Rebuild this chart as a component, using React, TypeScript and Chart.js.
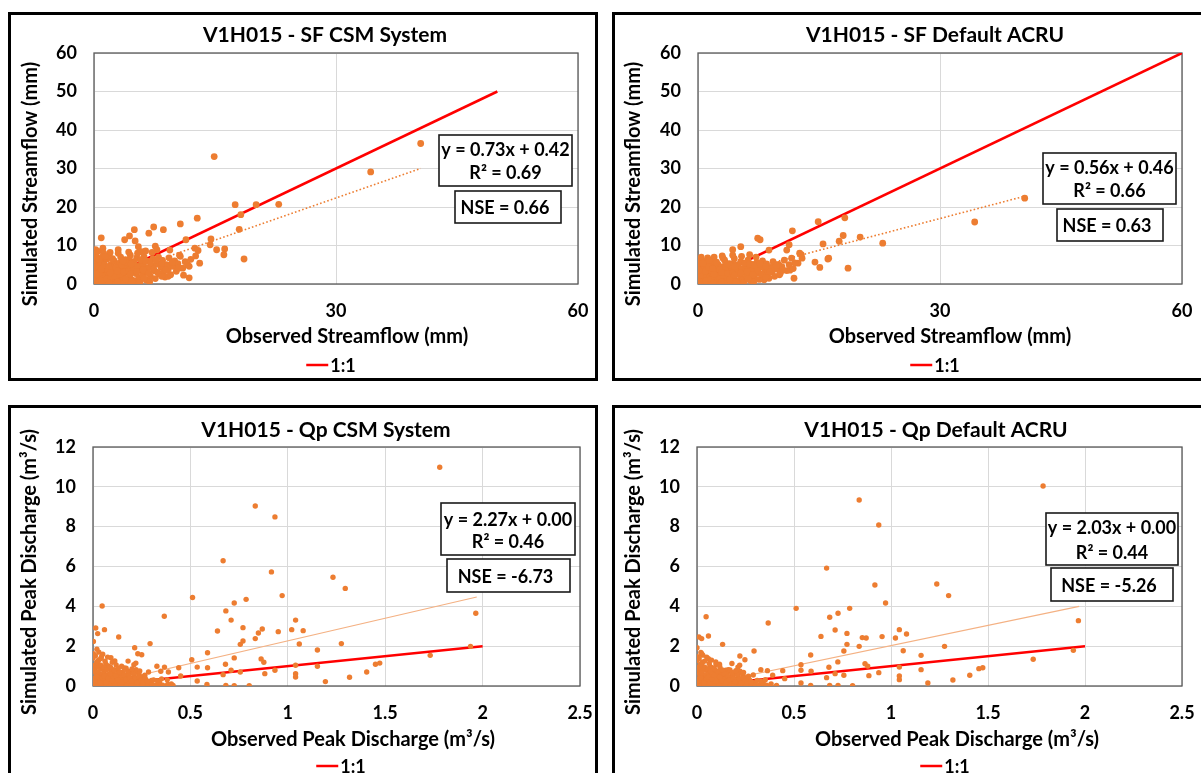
import { useEffect, useRef } from "react";
import { Chart, registerables } from "chart.js";

Chart.register(...registerables);

const FONT = 'Lato, "Open Sans", "DejaVu Sans", sans-serif';

// ---------- tick labels ----------
const sfTicksX = [0, 30, 60];
const sfTicksY = [0, 10, 20, 30, 40, 50, 60];
const qpTicksX = [0, 0.5, 1, 1.5, 2, 2.5];
const qpTicksY = [0, 2, 4, 6, 8, 10, 12];

// ---------- SF CSM System ----------
const sfCsmPoints: number[][] = [
  [14.9, 33.1], [40.5, 36.5], [34.3, 29.1], [17.5, 20.6], [20.1, 20.6], [22.9, 20.7], [18.2, 18.0], [18.0, 14.2],
  [18.6, 6.5], [12.8, 17.1], [10.7, 15.6], [7.4, 14.8], [8.6, 14.1], [5.0, 14.1], [0.9, 12.0], [3.8, 11.5],
  [4.4, 12.5], [6.8, 13.2], [11.4, 11.5], [14.5, 11.7], [14.4, 10.2], [15.2, 8.9], [16.2, 9.1], [16.1, 7.6],
  [12.5, 9.3], [12.9, 8.7], [12.6, 7.3], [13.1, 5.4], [11.6, 5.0], [11.1, 2.3], [11.8, 1.6], [7.6, 9.8],
  [7.8, 8.9], [5.1, 11.2], [5.5, 9.7], [3.0, 8.9], [0.2, 8.9], [1.1, 9.3], [9.4, 8.8], [10.6, 7.5],
  [10.1, 4.6], [9.2, 2.0], [5.9, 8.4],
  [0.1, 0.2], [0.2, 0.5], [0.3, 1.2], [0.1, 2.0], [0.4, 0.8], [0.5, 3.1], [0.2, 4.0], [0.6, 1.5], [0.3, 5.2],
  [0.8, 2.4], [0.1, 6.1], [0.9, 0.6], [1.0, 3.5], [0.7, 4.6], [1.2, 1.1], [1.1, 5.8], [1.3, 2.8], [1.5, 0.4],
  [1.4, 4.2], [1.6, 6.5], [1.8, 1.9], [1.7, 3.3], [2.0, 0.9], [2.1, 5.1], [1.9, 7.2], [2.3, 2.5], [2.4, 4.0],
  [2.2, 0.3], [2.6, 3.0], [2.5, 6.0], [2.8, 1.4], [2.9, 4.8], [3.0, 2.2], [3.1, 0.7], [3.2, 5.5], [3.4, 3.6],
  [3.3, 7.0], [3.6, 1.8], [3.5, 4.4], [3.8, 2.9], [3.9, 6.3], [4.0, 0.5], [4.1, 3.9], [4.2, 5.0], [4.4, 2.1],
  [4.5, 7.5], [4.6, 1.2], [4.7, 4.6], [4.8, 3.2], [5.0, 5.8], [5.1, 0.9], [5.2, 2.7], [5.3, 6.8], [5.5, 4.1],
  [5.6, 1.6], [5.8, 3.5], [5.9, 5.4], [6.0, 2.3], [6.2, 7.1], [6.3, 4.3], [6.5, 1.0], [6.6, 3.0], [6.8, 5.9],
  [7.0, 2.0], [7.1, 4.8], [7.3, 6.5], [7.5, 3.4], [7.6, 1.4], [7.8, 5.2], [8.0, 7.0], [8.1, 2.6], [8.3, 4.4],
  [8.5, 6.1], [8.6, 3.1], [8.8, 1.8], [9.0, 5.0], [9.2, 3.8], [9.3, 6.8], [9.5, 2.4], [9.8, 4.6], [10.0, 6.0],
  [10.2, 3.3], [10.4, 5.3], [10.7, 7.2], [11.0, 4.1], [11.3, 5.8], [11.8, 4.6], [12.0, 6.4], [0.2, 7.8],
  [0.5, 8.5], [0.4, 6.8], [1.2, 8.0], [0.0, 3.0], [0.0, 1.0], [0.0, 5.0], [0.6, 0.1], [1.4, 0.2], [2.7, 0.1],
  [3.7, 0.2], [1.0, 7.0], [2.0, 8.2], [3.0, 8.0], [4.3, 8.3], [5.4, 8.0], [6.4, 8.6], [7.2, 8.2], [0.3, 3.6],
  [0.8, 5.5], [1.5, 2.2], [2.4, 1.6], [3.5, 0.1], [4.9, 0.3], [5.7, 0.4], [1.1, 1.8], [0.7, 2.9], [2.2, 3.7],
  [3.8, 4.9], [4.4, 6.2], [6.9, 0.6],
  [0.5, 0.5], [1.0, 0.9], [1.6, 1.3], [2.1, 1.8], [2.6, 2.0], [3.2, 2.5], [3.7, 3.1], [4.3, 3.3], [4.9, 4.0],
  [5.4, 4.6], [6.1, 5.0], [6.7, 4.2], [7.4, 3.9], [0.3, 2.6], [0.9, 3.9], [1.3, 5.0], [1.8, 4.5], [2.7, 4.3],
  [3.4, 4.9], [4.0, 5.6], [4.6, 5.2], [5.8, 6.3], [6.4, 6.0], [7.0, 5.5], [7.7, 6.2], [8.4, 5.3], [9.1, 4.5],
  [2.0, 2.9], [2.9, 3.4], [3.9, 1.3], [4.5, 2.6], [5.3, 3.3], [6.1, 3.7], [6.8, 2.8], [7.9, 3.0], [8.9, 3.6],
  [9.7, 5.6], [10.5, 4.1], [0.6, 6.4], [1.4, 7.2], [2.3, 6.6], [3.6, 6.0], [0.1, 4.4], [1.9, 0.2], [2.9, 0.5],
  [4.7, 0.6], [6.2, 1.5], [8.4, 2.0],
];
const sfCsmTrend: number[][] = [[0, 0.42], [40.5, 30.0]];
const sfCsmOneToOne: number[][] = [[0, 0], [50, 50]];
const sfCsmLabels = ["y = 0.73x + 0.42", "R\u00b2 = 0.69", "NSE = 0.66"];

// ---------- SF Default ACRU ----------
const sfAcruPoints: number[][] = [
  [40.5, 22.3], [34.3, 16.1], [14.9, 16.2], [18.2, 17.2], [11.7, 13.8], [18.0, 12.6], [20.1, 12.2], [22.9, 10.6],
  [17.5, 11.1], [15.5, 10.4], [18.6, 4.1], [16.1, 6.5], [16.2, 6.7], [15.1, 4.3], [14.5, 5.7], [7.4, 11.9],
  [7.7, 11.5], [5.3, 9.7], [4.3, 8.9], [11.3, 10.2], [12.8, 7.6], [12.6, 8.0], [12.9, 6.7], [12.4, 5.4],
  [11.6, 6.7], [11.4, 3.6], [11.9, 1.5], [8.8, 8.8], [11.0, 8.8], [8.2, 1.1], [10.1, 2.4], [0.8, 5.4], [3.1, 6.7],
  [0.1, 0.2], [0.2, 0.6], [0.3, 1.3], [0.1, 2.2], [0.4, 0.9], [0.5, 2.8], [0.2, 3.6], [0.6, 1.6], [0.3, 4.3],
  [0.8, 2.2], [0.1, 5.0], [0.9, 0.5], [1.0, 3.1], [0.7, 3.9], [1.2, 1.0], [1.1, 4.8], [1.3, 2.4], [1.5, 0.4],
  [1.4, 3.6], [1.6, 5.3], [1.8, 1.7], [1.7, 2.9], [2.0, 0.8], [2.1, 4.3], [1.9, 6.0], [2.3, 2.1], [2.4, 3.4],
  [2.2, 0.3], [2.6, 2.6], [2.5, 5.0], [2.8, 1.2], [2.9, 4.0], [3.0, 1.9], [3.1, 0.6], [3.2, 4.6], [3.4, 3.0],
  [3.3, 6.2], [3.6, 1.5], [3.5, 3.8], [3.8, 2.5], [3.9, 5.3], [4.0, 0.5], [4.1, 3.3], [4.2, 4.3], [4.4, 1.8],
  [4.5, 6.6], [4.6, 1.0], [4.7, 3.9], [4.8, 2.7], [5.0, 5.0], [5.1, 0.8], [5.2, 2.3], [5.3, 5.8], [5.5, 3.5],
  [5.6, 1.3], [5.8, 3.0], [5.9, 4.6], [6.0, 2.0], [6.2, 6.2], [6.3, 3.7], [6.5, 0.9], [6.6, 2.6], [6.8, 5.1],
  [7.0, 1.7], [7.1, 4.1], [7.3, 5.6], [7.5, 2.9], [7.6, 1.2], [7.8, 4.4], [8.0, 6.0], [8.1, 2.2], [8.3, 3.8],
  [8.5, 5.2], [8.6, 2.7], [8.8, 1.5], [9.0, 4.3], [9.2, 3.2], [9.3, 5.8], [9.5, 2.0], [9.8, 3.9], [10.0, 5.1],
  [10.2, 2.8], [10.4, 4.5], [10.7, 6.2], [11.0, 3.5], [11.3, 5.0], [11.8, 4.0], [12.0, 5.5], [0.2, 6.3],
  [0.5, 5.8], [0.4, 7.0], [1.2, 6.8], [0.0, 2.6], [0.0, 1.0], [0.0, 4.0], [0.6, 0.1], [1.4, 0.2], [2.7, 0.1],
  [3.7, 0.2], [1.0, 6.0], [2.0, 7.0], [3.0, 7.3], [4.3, 7.5], [5.4, 7.2], [6.4, 7.6], [7.2, 7.0], [0.3, 3.0],
  [0.8, 4.6], [1.5, 1.9], [2.4, 1.3], [3.5, 0.1], [4.9, 0.3], [5.7, 0.4], [1.1, 1.5], [0.7, 2.5], [2.2, 3.1],
  [3.8, 4.1], [4.4, 5.3], [6.9, 0.5],
  [0.5, 0.4], [1.0, 0.8], [1.6, 1.1], [2.1, 1.5], [2.6, 1.8], [3.2, 2.2], [3.7, 2.7], [4.3, 2.9], [4.9, 3.5],
  [5.4, 4.0], [6.1, 4.4], [6.7, 3.6], [7.4, 3.4], [0.3, 2.3], [0.9, 3.4], [1.3, 4.4], [1.8, 4.0], [2.7, 3.7],
  [3.4, 4.3], [4.0, 4.9], [4.6, 4.6], [5.8, 5.4], [6.4, 5.2], [7.0, 4.8], [7.7, 5.3], [8.4, 4.6], [9.1, 3.9],
  [2.0, 2.5], [2.9, 3.0], [3.9, 1.1], [4.5, 2.3], [5.3, 2.9], [6.1, 3.2], [6.8, 2.4], [7.9, 2.6], [8.9, 3.1],
  [9.7, 4.8], [10.5, 3.6], [0.6, 5.4], [1.4, 6.1], [2.3, 5.7], [3.6, 5.2], [0.1, 3.6], [1.9, 0.2], [2.9, 0.5],
  [4.7, 0.5], [6.2, 1.3], [8.4, 1.7],
];
const sfAcruTrend: number[][] = [[0, 0.46], [40.5, 22.8]];
const sfAcruOneToOne: number[][] = [[0, 0], [60, 60]];
const sfAcruLabels = ["y = 0.56x + 0.46", "R\u00b2 = 0.66", "NSE = 0.63"];

// ---------- Qp CSM System ----------
const qpCsmPoints: number[][] = [
  [1.78, 10.98], [0.833, 9.04], [0.934, 8.49], [0.668, 6.29], [0.916, 5.73], [1.232, 5.46], [1.295, 4.9],
  [0.511, 4.44], [0.971, 4.54], [0.786, 4.35], [0.725, 4.17], [0.047, 4.02], [0.366, 3.5], [0.682, 3.77],
  [0.709, 3.31], [1.04, 3.31], [0.77, 2.93], [0.639, 2.76], [0.869, 2.86], [0.849, 2.66], [0.951, 2.73],
  [1.02, 2.83], [1.079, 2.78], [0.833, 2.38], [0.77, 2.26], [0.756, 2.09], [1.059, 2.11], [1.275, 2.13],
  [1.152, 1.81], [0.588, 1.67], [0.725, 1.41], [0.863, 1.36], [0.877, 1.19], [0.507, 1.32], [0.68, 1.09],
  [0.535, 0.95], [0.588, 0.92], [0.709, 0.79], [0.756, 0.7], [0.934, 0.79], [0.882, 0.62], [1.04, 1.04],
  [1.152, 0.99], [1.04, 0.62], [1.04, 0.45], [0.668, 0.57], [1.317, 0.44], [1.193, 0.22], [1.405, 0.7],
  [1.45, 1.09], [1.472, 1.15], [1.731, 1.54], [1.938, 1.99], [1.965, 3.65], [0.535, 0.25], [0.585, 0.08],
  [0.682, 0.03], [0.725, 0.02], [0.802, 0.02], [0.44, 0.92], [0.45, 0.5], [0.367, 0.95], [0.328, 0.99],
  [0.387, 0.7], [0.348, 0.74], [0.411, 0.03], [0.383, 0.08], [0.338, 0.12], [0.293, 2.13], [0.214, 1.92],
  [0.23, 1.62], [0.25, 1.57], [0.21, 1.07], [0.132, 2.46], [0.059, 2.83], [0.024, 2.63], [0.014, 2.91],
  [0.002, 2.24], [0.043, 1.46], [0.092, 1.42], [0.112, 1.26], [0.147, 0.99], [0.285, 0.7], [0.3, 0.28],
  [0.0, 0.05], [0.004, 0.22], [0.011, 0.41], [0.016, 0.1], [0.021, 0.62], [0.009, 0.83], [0.005, 1.02],
  [0.019, 1.21], [0.031, 0.3], [0.036, 0.05], [0.042, 0.52], [0.044, 0.88], [0.052, 0.14], [0.057, 0.71],
  [0.061, 0.33], [0.066, 1.1], [0.072, 0.04], [0.074, 0.57], [0.081, 0.26], [0.087, 0.84], [0.09, 0.11],
  [0.097, 0.44], [0.101, 0.66], [0.106, 0.19], [0.109, 0.05], [0.117, 0.36], [0.121, 0.79], [0.126, 0.16],
  [0.132, 0.49], [0.137, 0.04], [0.141, 0.31], [0.146, 0.61], [0.151, 0.09], [0.157, 0.42], [0.16, 0.91],
  [0.167, 0.21], [0.172, 0.06], [0.176, 0.53], [0.182, 0.29], [0.186, 0.12], [0.191, 0.72], [0.196, 0.38],
  [0.201, 0.16], [0.207, 0.04], [0.211, 0.51], [0.216, 0.24], [0.221, 0.82], [0.226, 0.1], [0.232, 0.36],
  [0.236, 0.6], [0.241, 0.05], [0.246, 0.21], [0.252, 0.46], [0.262, 0.11], [0.271, 0.31], [0.279, 0.05],
  [0.291, 0.19], [0.302, 0.09], [0.321, 0.05], [0.342, 0.16], [0.358, 0.04], [0.0, 1.41], [0.002, 1.62],
  [0.012, 1.52], [0.029, 1.31], [0.041, 1.38], [0.062, 1.24], [0.079, 1.01], [0.099, 1.19], [0.119, 1.06],
  [0.014, 0.66], [0.026, 0.96], [0.034, 0.24], [0.047, 0.44], [0.054, 0.02], [0.064, 0.29], [0.077, 0.92],
  [0.084, 0.02], [0.094, 0.76], [0.104, 0.48], [0.114, 0.02], [0.124, 0.59], [0.134, 0.41], [0.144, 0.02],
  [0.154, 0.69], [0.164, 0.46], [0.174, 0.02], [0.184, 0.56], [0.194, 0.02], [0.204, 0.34], [0.214, 0.66],
  [0.224, 0.02], [0.234, 0.26], [0.256, 0.02], [0.266, 0.54], [0.276, 0.15], [0.311, 0.31], [0.331, 0.26],
  [0.352, 0.36], [0.381, 0.31], [0.402, 0.1], [0.006, 0.02], [0.022, 0.02], [0.039, 0.02], [0.049, 0.39],
  [0.008, 0.3], [0.018, 0.48], [0.027, 0.72], [0.037, 0.15], [0.048, 0.62], [0.058, 0.5], [0.068, 0.18],
  [0.078, 0.38], [0.088, 0.6], [0.098, 0.27], [0.108, 0.82], [0.118, 0.52], [0.128, 0.3], [0.138, 0.7],
  [0.148, 0.2], [0.158, 0.55], [0.168, 0.33], [0.178, 0.75], [0.188, 0.4], [0.198, 0.25], [0.208, 0.62],
  [0.218, 0.4], [0.228, 0.18], [0.238, 0.45], [0.248, 0.3], [0.258, 0.2], [0.268, 0.38], [0.278, 0.25],
  [0.012, 1.05], [0.025, 1.15], [0.04, 1.05], [0.055, 0.95], [0.07, 0.82], [0.09, 0.95], [0.13, 0.9],
  [0.17, 0.9], [0.2, 0.85], [0.24, 0.75], [0.03, 1.7], [0.02, 1.85], [0.05, 1.6], [0.075, 1.45],
  [0.18, 1.25], [0.22, 1.15],
];
const qpCsmTrend: number[][] = [[0, 0.0], [1.97, 4.47]];
const qpCsmOneToOne: number[][] = [[0, 0], [2, 2]];
const qpCsmLabels = ["y = 2.27x + 0.00", "R\u00b2 = 0.46", "NSE = -6.73"];

// ---------- Qp Default ACRU ----------
const qpAcruPoints: number[][] = [
  [1.784, 10.04], [0.836, 9.34], [0.937, 8.08], [0.668, 5.92], [0.917, 5.07], [1.236, 5.12], [1.297, 4.54],
  [0.511, 3.9], [0.787, 3.9], [0.972, 4.17], [0.727, 3.65], [0.684, 3.45], [0.047, 3.48], [0.367, 3.16],
  [0.712, 2.81], [1.043, 2.83], [0.773, 2.64], [0.639, 2.49], [0.852, 2.43], [0.872, 2.41], [0.954, 2.48],
  [1.023, 2.41], [1.08, 2.61], [0.836, 1.99], [0.757, 1.76], [0.773, 2.09], [1.063, 1.77], [1.276, 1.99],
  [1.155, 1.54], [0.586, 1.56], [0.726, 1.21], [0.866, 1.12], [0.88, 1.0], [0.536, 1.07], [0.68, 0.94],
  [0.536, 0.79], [0.588, 0.74], [0.712, 0.62], [0.757, 0.54], [0.937, 0.67], [0.886, 0.52], [1.043, 0.95],
  [1.155, 0.82], [1.043, 0.5], [1.043, 0.32], [0.668, 0.42], [1.319, 0.3], [1.19, 0.15], [1.406, 0.54],
  [1.453, 0.87], [1.473, 0.92], [1.733, 1.34], [1.94, 1.79], [1.966, 3.28], [0.536, 0.15], [0.586, 0.03],
  [0.684, 0.03], [0.727, 0.03], [0.802, 0.02], [0.442, 0.77], [0.452, 0.37], [0.363, 0.77], [0.329, 0.82],
  [0.39, 0.54], [0.41, 0.03], [0.29, 0.55], [0.294, 1.76], [0.221, 1.51], [0.247, 1.32], [0.211, 0.95],
  [0.132, 2.09], [0.059, 2.51], [0.024, 2.38], [0.01, 2.46], [0.0, 1.92], [0.024, 1.62], [0.059, 1.37],
  [0.097, 1.21], [0.116, 1.09], [0.148, 0.79], [0.382, 0.1], [0.34, 0.14],
  [0.0, 0.04], [0.005, 0.19], [0.01, 0.37], [0.015, 0.09], [0.02, 0.55], [0.008, 0.74], [0.004, 0.93],
  [0.018, 1.1], [0.03, 0.27], [0.035, 0.04], [0.041, 0.47], [0.045, 0.8], [0.051, 0.12], [0.056, 0.64],
  [0.06, 0.3], [0.067, 0.98], [0.071, 0.04], [0.075, 0.52], [0.08, 0.23], [0.086, 0.76], [0.091, 0.1],
  [0.096, 0.4], [0.1, 0.6], [0.105, 0.17], [0.11, 0.04], [0.116, 0.33], [0.12, 0.71], [0.125, 0.14],
  [0.131, 0.45], [0.136, 0.04], [0.14, 0.28], [0.147, 0.55], [0.15, 0.08], [0.156, 0.38], [0.161, 0.82],
  [0.166, 0.19], [0.171, 0.05], [0.177, 0.48], [0.181, 0.26], [0.187, 0.11], [0.19, 0.65], [0.197, 0.34],
  [0.2, 0.14], [0.206, 0.04], [0.212, 0.46], [0.215, 0.22], [0.222, 0.74], [0.225, 0.09], [0.231, 0.32],
  [0.237, 0.54], [0.24, 0.05], [0.247, 0.19], [0.251, 0.41], [0.261, 0.1], [0.272, 0.28], [0.28, 0.04],
  [0.292, 0.17], [0.301, 0.08], [0.322, 0.04], [0.341, 0.14], [0.359, 0.04], [0.0, 1.28], [0.003, 1.47],
  [0.011, 1.38], [0.028, 1.19], [0.04, 1.25], [0.063, 1.13], [0.078, 0.92], [0.098, 1.08], [0.118, 0.96],
  [0.013, 0.6], [0.027, 0.87], [0.033, 0.22], [0.046, 0.4], [0.053, 0.02], [0.065, 0.26], [0.076, 0.84],
  [0.085, 0.02], [0.093, 0.69], [0.103, 0.44], [0.113, 0.02], [0.123, 0.54], [0.133, 0.37], [0.143, 0.02],
  [0.153, 0.63], [0.163, 0.42], [0.173, 0.02], [0.183, 0.51], [0.193, 0.02], [0.203, 0.31], [0.213, 0.6],
  [0.223, 0.02], [0.233, 0.24], [0.255, 0.02], [0.265, 0.49], [0.275, 0.14], [0.31, 0.28], [0.33, 0.24],
  [0.352, 0.32], [0.005, 0.02], [0.021, 0.02], [0.038, 0.02], [0.048, 0.35],
  [0.008, 0.27], [0.018, 0.43], [0.027, 0.65], [0.037, 0.13], [0.048, 0.56], [0.058, 0.45], [0.068, 0.16],
  [0.078, 0.34], [0.088, 0.54], [0.098, 0.24], [0.108, 0.74], [0.118, 0.47], [0.128, 0.27], [0.138, 0.63],
  [0.148, 0.18], [0.158, 0.5], [0.168, 0.3], [0.178, 0.68], [0.188, 0.36], [0.198, 0.22], [0.208, 0.56],
  [0.218, 0.36], [0.228, 0.16], [0.238, 0.4], [0.248, 0.27], [0.258, 0.18], [0.268, 0.34], [0.278, 0.22],
  [0.012, 0.95], [0.025, 1.04], [0.04, 0.95], [0.055, 0.86], [0.07, 0.74], [0.09, 0.86], [0.13, 0.81],
  [0.17, 0.81], [0.2, 0.77], [0.24, 0.68], [0.03, 1.55], [0.02, 1.68], [0.05, 1.45], [0.075, 1.3],
  [0.18, 1.13], [0.22, 1.04],
];
const qpAcruTrend: number[][] = [[0, 0.0], [1.97, 4.0]];
const qpAcruOneToOne: number[][] = [[0, 0], [2, 2]];
const qpAcruLabels = ["y = 2.03x + 0.00", "R\u00b2 = 0.44", "NSE = -5.26"];

// ---------- layout (page / canvas coordinates) ----------
type Panel = {
  left: number; top: number; w: number; h: number;
  area: { l: number; r: number; t: number; b: number };
  title: string; titlePos: number[];
  xTitle: string; xTitlePos: number[];
  yTitle: string; yTitlePos: number[];
  legendPos: number[];
  points: number[][]; trend: number[][]; one: number[][];
  xTicks: number[]; yTicks: number[];
  labels: string[];
  eqBox: number[]; eqY: number[]; nseBox: number[]; nseY: number;
  dotted: boolean; radius: number;
};

const PANELS: Panel[] = [
  {
    left: 8, top: 12, w: 590, h: 369, area: { l: 83, r: 567, t: 38, b: 269 },
    title: "V1H015 - SF CSM System", titlePos: [314, 20],
    xTitle: "Observed Streamflow (mm)", xTitlePos: [336, 322],
    yTitle: "Simulated Streamflow (mm)", yTitlePos: [20, 169],
    legendPos: [320, 350],
    points: sfCsmPoints, trend: sfCsmTrend, one: sfCsmOneToOne,
    xTicks: sfTicksX, yTicks: sfTicksY, labels: sfCsmLabels,
    eqBox: [428, 120, 133, 51], eqY: [135, 158], nseBox: [444, 176, 106, 32], nseY: 193,
    dotted: true, radius: 3.4,
  },
  {
    left: 612, top: 12, w: 594, h: 369, area: { l: 83, r: 567, t: 38, b: 269 },
    title: "V1H015 - SF Default ACRU", titlePos: [320, 20],
    xTitle: "Observed Streamflow (mm)", xTitlePos: [335, 322],
    yTitle: "Simulated Streamflow (mm)", yTitlePos: [19, 169],
    legendPos: [320, 350],
    points: sfAcruPoints, trend: sfAcruTrend, one: sfAcruOneToOne,
    xTicks: sfTicksX, yTicks: sfTicksY, labels: sfAcruLabels,
    eqBox: [428, 138, 133, 51], eqY: [153, 176], nseBox: [442, 194, 106, 32], nseY: 211,
    dotted: true, radius: 3.4,
  },
  {
    left: 8, top: 405, w: 590, h: 392, area: { l: 82, r: 569, t: 39, b: 278 },
    title: "V1H015 - Qp CSM System", titlePos: [315, 22],
    xTitle: "Observed Peak Discharge (m\u00b3/s)", xTitlePos: [342, 332],
    yTitle: "Simulated Peak Discharge (m\u00b3/s)", yTitlePos: [19, 164],
    legendPos: [330, 358],
    points: qpCsmPoints, trend: qpCsmTrend, one: qpCsmOneToOne,
    xTicks: qpTicksX, yTicks: qpTicksY, labels: qpCsmLabels,
    eqBox: [430, 95, 134, 52], eqY: [112, 134], nseBox: [436, 151, 123, 33], nseY: 169,
    dotted: false, radius: 2.7,
  },
  {
    left: 612, top: 405, w: 594, h: 392, area: { l: 82, r: 567, t: 39, b: 278 },
    title: "V1H015 - Qp Default ACRU", titlePos: [321, 22],
    xTitle: "Observed Peak Discharge (m\u00b3/s)", xTitlePos: [342, 332],
    yTitle: "Simulated Peak Discharge (m\u00b3/s)", yTitlePos: [19, 164],
    legendPos: [330, 358],
    points: qpAcruPoints, trend: qpAcruTrend, one: qpAcruOneToOne,
    xTicks: qpTicksX, yTicks: qpTicksY, labels: qpAcruLabels,
    eqBox: [431, 105, 132, 52], eqY: [120, 145], nseBox: [436, 160, 122, 33], nseY: 178,
    dotted: false, radius: 2.7,
  },
];

const toXY = (arr: number[][]) => arr.map(([x, y]) => ({ x, y }));

function makeDecor(p: Panel) {
  return {
    id: "decor",
    beforeDatasetsDraw(chart: any) {
      const { ctx, chartArea: a } = chart;
      ctx.save();
      ctx.strokeStyle = "#595959";
      ctx.lineWidth = 1.3;
      ctx.strokeRect(a.left, a.top, a.right - a.left, a.bottom - a.top);
      ctx.restore();
    },
    afterDatasetsDraw(chart: any) {
      const ctx = chart.ctx as CanvasRenderingContext2D;
      ctx.save();
      const box = (b: number[]) => {
        ctx.fillStyle = "#fff";
        ctx.fillRect(b[0], b[1], b[2], b[3]);
        ctx.strokeStyle = "#1a1a1a";
        ctx.lineWidth = 1.6;
        ctx.strokeRect(b[0], b[1], b[2], b[3]);
      };
      box(p.eqBox);
      box(p.nseBox);
      ctx.fillStyle = "#000";
      ctx.font = `bold 18px ${FONT}`;
      ctx.textAlign = "center";
      ctx.textBaseline = "middle";
      const ecx = p.eqBox[0] + p.eqBox[2] / 2;
      ctx.fillText(p.labels[0], ecx, p.eqY[0]);
      ctx.fillText(p.labels[1], ecx, p.eqY[1]);
      const ncx = p.nseBox[0] + p.nseBox[2] / 2 - 3;
      ctx.fillText(p.labels[2], ncx, p.nseY);
      ctx.restore();
    },
    afterDraw(chart: any) {
      const ctx = chart.ctx as CanvasRenderingContext2D;
      ctx.save();
      ctx.fillStyle = "#000";
      ctx.textAlign = "center";
      ctx.textBaseline = "middle";
      ctx.font = `bold 21px ${FONT}`;
      ctx.fillText(p.title, p.titlePos[0], p.titlePos[1]);
      ctx.font = `bold 20px ${FONT}`;
      ctx.fillText(p.xTitle, p.xTitlePos[0], p.xTitlePos[1]);
      ctx.save();
      ctx.translate(p.yTitlePos[0], p.yTitlePos[1]);
      ctx.rotate(-Math.PI / 2);
      ctx.fillText(p.yTitle, 0, 0);
      ctx.restore();
      // legend
      ctx.font = `bold 18px ${FONT}`;
      const label = "1:1";
      const tw = ctx.measureText(label).width;
      const lineW = 22;
      const gap = 2;
      const total = lineW + gap + tw;
      const x0 = p.legendPos[0] - total / 2;
      const y0 = p.legendPos[1];
      ctx.strokeStyle = "#FF0000";
      ctx.lineWidth = 2.5;
      ctx.beginPath();
      ctx.moveTo(x0, y0);
      ctx.lineTo(x0 + lineW, y0);
      ctx.stroke();
      ctx.textAlign = "left";
      ctx.fillText(label, x0 + lineW + gap, y0 + 1);
      ctx.restore();
    },
  };
}

function PanelChart({ p }: { p: Panel }) {
  const ref = useRef<HTMLCanvasElement>(null);
  const cw = p.w - 6;
  const ch = p.h - 6;
  useEffect(() => {
    const tickFont = { family: FONT, size: 18, weight: "bold" as const };
    const chart = new Chart(ref.current as HTMLCanvasElement, {
      type: "scatter",
      data: {
        datasets: [
          {
            label: "Observed vs Simulated",
            data: toXY(p.points),
            backgroundColor: "#ED7D31",
            borderColor: "#ED7D31",
            pointRadius: p.radius,
            pointHoverRadius: p.radius,
            borderWidth: 0,
          },
          {
            label: "Linear trend",
            data: toXY(p.trend),
            showLine: true,
            borderColor: p.dotted ? "#ED7D31" : "#F4B183",
            borderWidth: p.dotted ? 1.6 : 1.2,
            borderDash: p.dotted ? [1.6, 2.2] : [],
            pointRadius: 0,
            fill: false,
          },
          {
            label: "1:1",
            data: toXY(p.one),
            showLine: true,
            borderColor: "#FF0000",
            borderWidth: 2.5,
            pointRadius: 0,
            fill: false,
          },
        ],
      },
      options: {
        responsive: false,
        animation: false,
        devicePixelRatio: 1,
        layout: { padding: { left: 0, top: p.area.t, right: cw - p.area.r, bottom: 0 } },
        plugins: {
          legend: { display: false },
          title: { display: false },
          tooltip: { enabled: false },
        },
        scales: {
          x: {
            type: "linear",
            min: p.xTicks[0],
            max: p.xTicks[p.xTicks.length - 1],
            afterBuildTicks: (s: any) => {
              s.ticks = p.xTicks.map((v) => ({ value: v }));
            },
            afterFit: (s: any) => {
              s.height = ch - p.area.b;
              s.paddingLeft = 0;
              s.paddingRight = 0;
            },
            ticks: {
              font: tickFont,
              color: "#000",
              padding: 16,
              maxRotation: 0,
              autoSkip: false,
              callback: (v: any) => String(v),
            },
            grid: { color: "#D9D9D9", lineWidth: 1, drawTicks: false },
            border: { display: false },
          },
          y: {
            type: "linear",
            min: p.yTicks[0],
            max: p.yTicks[p.yTicks.length - 1],
            afterBuildTicks: (s: any) => {
              s.ticks = p.yTicks.map((v) => ({ value: v }));
            },
            afterFit: (s: any) => {
              s.width = p.area.l;
              s.paddingTop = 0;
              s.paddingBottom = 0;
            },
            ticks: {
              font: tickFont,
              color: "#000",
              padding: 17,
              autoSkip: false,
              callback: (v: any) => String(v),
            },
            grid: { color: "#D9D9D9", lineWidth: 1, drawTicks: false },
            border: { display: false },
          },
        },
      },
      plugins: [makeDecor(p)],
    } as any);
    return () => chart.destroy();
  }, []);
  return (
    <div
      style={{
        position: "absolute",
        left: p.left,
        top: p.top,
        width: p.w,
        height: p.h,
        border: "3px solid #000",
        boxSizing: "border-box",
        background: "#fff",
      }}
    >
      <canvas ref={ref} width={cw} height={ch} style={{ display: "block" }} />
    </div>
  );
}

export default function App() {
  return (
    <div
      style={{
        position: "fixed",
        left: 0,
        top: 0,
        width: 1201,
        height: 773,
        overflow: "hidden",
        background: "#fff",
      }}
    >
      {PANELS.map((p, i) => (
        <PanelChart key={i} p={p} />
      ))}
    </div>
  );
}
